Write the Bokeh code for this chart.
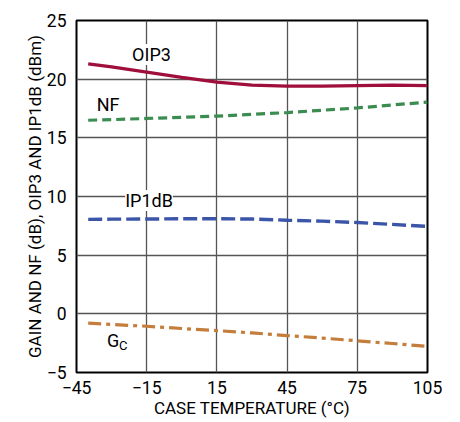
from bokeh.plotting import figure
from bokeh.models import Label, FixedTicker
from bokeh.embed import file_html
from bokeh.resources import INLINE

# ---- data ----
temp = [-40, -30, -15, 0, 15, 30, 45, 60, 75, 90, 105]
oip3 = [21.3, 21.05, 20.6, 20.15, 19.75, 19.5, 19.4, 19.4, 19.45, 19.5, 19.45]
nf = [16.5, 16.55, 16.65, 16.75, 16.85, 17.0, 17.15, 17.35, 17.55, 17.8, 18.05]
ip1db = [8.05, 8.07, 8.08, 8.1, 8.1, 8.08, 7.98, 7.9, 7.78, 7.62, 7.45]
gc = [-0.8, -0.9, -1.06, -1.25, -1.43, -1.63, -1.85, -2.07, -2.3, -2.53, -2.77]

x_ticks = [-45, -15, 15, 45, 75, 105]
y_ticks = [-5, 0, 5, 10, 15, 20, 25]
x_overrides = {-45: "\u221245", -15: "\u221215"}
y_overrides = {-5: "\u22125"}

x_title = "CASE TEMPERATURE (\u00b0C)"
y_title = "GAIN AND NF (dB), OIP3 AND IP1dB (dBm)"

FONT = "Roboto"

p = figure(width=460, height=422, x_range=(-45, 105), y_range=(-5, 25),
           output_backend="svg", toolbar_location=None,
           min_border_left=76, min_border_right=33, min_border_top=20,
           min_border_bottom=50)
p.background_fill_color = "white"
p.border_fill_color = "white"
p.outline_line_color = "black"
p.outline_line_width = 2

p.xaxis.ticker = FixedTicker(ticks=x_ticks)
p.yaxis.ticker = FixedTicker(ticks=y_ticks)
p.xaxis.major_label_overrides = x_overrides
p.yaxis.major_label_overrides = y_overrides
for ax in (p.xaxis, p.yaxis):
    ax.axis_line_color = None
    ax.major_tick_in = 0
    ax.major_tick_out = 0
    ax.minor_tick_in = 0
    ax.minor_tick_out = 0
    ax.major_label_text_font = FONT
    ax.major_label_text_font_size = "17.5px"
    ax.major_label_text_color = "black"
    ax.axis_label_text_font = FONT
    ax.axis_label_text_font_size = "17px"
    ax.axis_label_text_font_style = "normal"
    ax.axis_label_text_color = "black"
p.xaxis.major_label_standoff = 8
p.yaxis.major_label_standoff = 10
p.xaxis.axis_label = x_title
p.xaxis.axis_label_standoff = 1
p.yaxis.axis_label = y_title
p.yaxis.axis_label_standoff = -1

p.grid.grid_line_color = "#555555"
p.grid.grid_line_width = 1.3

p.line(temp, oip3, line_color="#a00f3c", line_width=3.2)
p.line(temp, nf, line_color="#3a8c50", line_width=3.2, line_dash="9 5")
p.line(temp, ip1db, line_color="#3b56a8", line_width=3.4, line_dash="14 5")
p.line(temp, gc, line_color="#c47d3a", line_width=3.2, line_dash="13 5 4 5")

def lab(x, y, text, size="18px", bg=True, baseline="middle", align="center"):
    l = Label(x=x, y=y, text=text, text_align=align, text_baseline=baseline,
              text_font=FONT, text_font_size=size, text_color="black")
    if bg:
        l.background_fill_color = "white"
    p.add_layout(l)

lab(-12.95, 22.1, "OIP3")
lab(-31.5, 17.85, "NF", bg=False)
lab(-14.0, 9.65, "IP1dB")
lab(-29.3, -2.3, "G", bg=False)
lab(-25.0, -2.72, "C", size="13px", bg=False)

open("out.html", "w").write(file_html(p, INLINE))
